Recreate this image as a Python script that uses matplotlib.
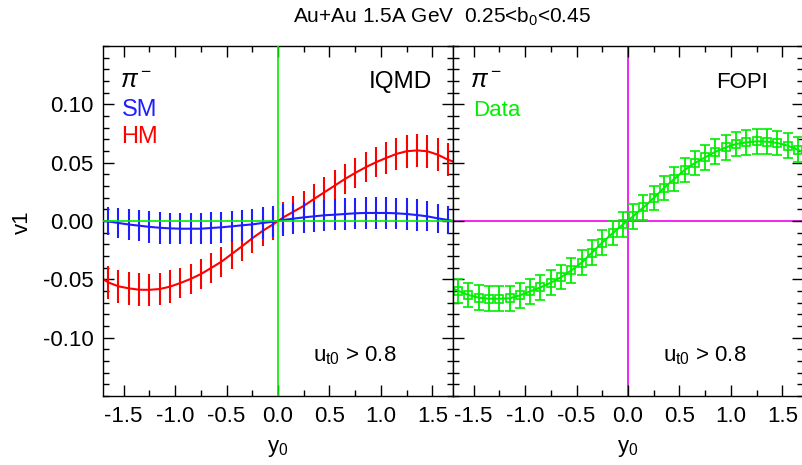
import matplotlib.pyplot as plt
from matplotlib.ticker import MultipleLocator, FixedLocator, FormatStrFormatter

plt.rcParams['font.family'] = ['Liberation Sans', 'DejaVu Sans']
plt.rcParams['axes.unicode_minus'] = False
plt.rcParams['mathtext.fontset'] = 'custom'
plt.rcParams['mathtext.rm'] = 'Liberation Sans'
plt.rcParams['mathtext.it'] = 'Liberation Sans:italic'

# rapidity bins
y0 = [-1.65, -1.55, -1.45, -1.35, -1.25, -1.15, -1.05, -0.95, -0.85, -0.75,
      -0.65, -0.55, -0.45, -0.35, -0.25, -0.15, -0.05, 0.05, 0.15, 0.25,
      0.35, 0.45, 0.55, 0.65, 0.75, 0.85, 0.95, 1.05, 1.15, 1.25,
      1.35, 1.45, 1.55, 1.65]

# IQMD hard EoS (HM)
hm_v1 = [-0.0526, -0.0560, -0.0577, -0.0589, -0.0590, -0.0583, -0.0563, -0.0532, -0.0497, -0.0455,
         -0.0403, -0.0349, -0.0283, -0.0217, -0.0148, -0.0085, -0.0030, 0.0030, 0.0080, 0.0130,
         0.0189, 0.0246, 0.0303, 0.0360, 0.0412, 0.0460, 0.0503, 0.0540, 0.0575, 0.0598,
         0.0605, 0.0598, 0.0569, 0.0526]
hm_err = [0.014, 0.014, 0.014, 0.014, 0.014, 0.014, 0.014, 0.013, 0.013, 0.013,
          0.013, 0.013, 0.013, 0.013, 0.013, 0.013, 0.013, 0.013, 0.013, 0.013,
          0.013, 0.013, 0.013, 0.013, 0.013, 0.013, 0.013, 0.014, 0.014, 0.014,
          0.014, 0.014, 0.014, 0.014]
hm_edges = [-0.0497, 0.0510]

# IQMD soft EoS (SM)
sm_v1 = [-0.0003, -0.0017, -0.0030, -0.0040, -0.0050, -0.0058, -0.0063, -0.0066, -0.0066, -0.0066,
         -0.0060, -0.0054, -0.0046, -0.0037, -0.0029, -0.0017, -0.0006, 0.0009, 0.0020, 0.0031,
         0.0040, 0.0049, 0.0054, 0.0060, 0.0066, 0.0069, 0.0069, 0.0069, 0.0066, 0.0060,
         0.0051, 0.0040, 0.0023, 0.0009]
sm_err = [0.012, 0.0125, 0.013, 0.0135, 0.0135, 0.0135, 0.0135, 0.0135, 0.0135, 0.0135,
          0.0135, 0.0135, 0.0135, 0.0135, 0.0135, 0.0135, 0.0135, 0.0135, 0.0135, 0.0135,
          0.0135, 0.0135, 0.0135, 0.0135, 0.0135, 0.0135, 0.0135, 0.0135, 0.0135, 0.0135,
          0.0135, 0.013, 0.0125, 0.012]
sm_edges = [0.0, 0.0]

# FOPI data
data_v1 = [-0.0598, -0.0634, -0.0657, -0.0666, -0.0666, -0.0663, -0.0637, -0.0603, -0.0569, -0.0529,
           -0.0481, -0.0423, -0.0357, -0.0271, -0.0185, -0.0105, -0.0030, 0.0040, 0.0117, 0.0197,
           0.0283, 0.0360, 0.0437, 0.0497, 0.0546, 0.0594, 0.0631, 0.0660, 0.0674, 0.0683,
           0.0680, 0.0669, 0.0646, 0.0611]
data_err = [0.0105] * len(data_v1)
data_edges = [-0.058, 0.059]

x_edges = [-1.7, 1.7]
v1_ticks = [-0.10, -0.05, 0.00, 0.05, 0.10]

RED = '#ff0000'
BLUE = '#1e1eff'
GREEN = '#00ee00'
MAGENTA = '#ee00ee'

fig = plt.figure(figsize=(8.03, 4.65), dpi=100)
W, H = 803.0, 465.0
ax1 = fig.add_axes([103 / W, 69 / H, 350 / W, 350 / H])
ax2 = fig.add_axes([453 / W, 69 / H, 350 / W, 350 / H])

for ax in (ax1, ax2):
    ax.set_xlim(-1.7, 1.7)
    ax.set_ylim(-0.15, 0.15)
    ax.xaxis.set_major_locator(MultipleLocator(0.5))
    ax.xaxis.set_minor_locator(MultipleLocator(0.25))
    ax.yaxis.set_major_locator(FixedLocator(v1_ticks))
    ax.yaxis.set_minor_locator(MultipleLocator(0.01))
    ax.xaxis.set_major_formatter(FormatStrFormatter('%.1f'))
    ax.yaxis.set_major_formatter(FormatStrFormatter('%.2f'))
    ax.tick_params(which='both', direction='in', top=True, right=True, width=1, labelsize=16)
    ax.tick_params(which='major', length=8, pad=7)
    ax.tick_params(which='minor', length=4)
    for s in ax.spines.values():
        s.set_linewidth(1)
    ax.text(0.5, -0.149, 'y$_0$', transform=ax.transAxes, ha='center', va='center', fontsize=16)
    ax.text(0.72, 0.098, 'u$_{\\rm t0}$ > 0.8', transform=ax.transAxes, ha='center',
            va='baseline', fontsize=16)
    ax.text(0.05, 0.88, r'$\pi^-$', transform=ax.transAxes, ha='left', va='baseline', fontsize=18)

ax2.tick_params(labelleft=False)

# left panel: IQMD
ax1.axvline(0, color=GREEN, lw=1.2, zorder=4)
ax1.axhline(0, color=GREEN, lw=1.2, zorder=4)
ax1.errorbar(y0, hm_v1, yerr=hm_err, fmt='none', ecolor=RED, elinewidth=1.5, capsize=0)
ax1.plot([x_edges[0]] + y0 + [x_edges[1]], [hm_edges[0]] + hm_v1 + [hm_edges[1]], color=RED, lw=1.5)
ax1.errorbar(y0, sm_v1, yerr=sm_err, fmt='none', ecolor=BLUE, elinewidth=1.5, capsize=0)
ax1.plot([x_edges[0]] + y0 + [x_edges[1]], [sm_edges[0]] + sm_v1 + [sm_edges[1]], color=BLUE, lw=1.5)

ax1.text(0.053, 0.80, 'SM', color=BLUE, transform=ax1.transAxes, ha='left', va='baseline', fontsize=17)
ax1.text(0.053, 0.722, 'HM', color=RED, transform=ax1.transAxes, ha='left', va='baseline', fontsize=17)
ax1.text(0.939, 0.879, 'IQMD', transform=ax1.transAxes, ha='right', va='baseline', fontsize=17.5)

# right panel: FOPI
ax2.axvline(0, color=MAGENTA, lw=1.2, zorder=1)
ax2.axhline(0, color=MAGENTA, lw=1.2, zorder=1)
ax2.plot([x_edges[0]] + y0 + [x_edges[1]], [data_edges[0]] + data_v1 + [data_edges[1]], color=GREEN, lw=1.5)
ax2.errorbar(y0, data_v1, yerr=data_err, fmt='s', mfc='none', mec=GREEN, ms=6, mew=1.2,
             ecolor=GREEN, elinewidth=1.3, capsize=3.5, capthick=1.3)
ax2.text(0.058, 0.80, 'Data', color=GREEN, transform=ax2.transAxes, ha='left', va='baseline', fontsize=16)
ax2.text(0.9, 0.879, 'FOPI', transform=ax2.transAxes, ha='right', va='baseline', fontsize=16)

fig.text(22 / W, 1 - 222 / H, 'v1', rotation=90, ha='center', va='center', fontsize=16)
fig.text(441.7 / W, 1 - 17 / H, 'Au+Au 1.5A GeV  0.25<b$_0$<0.45', ha='center', va='center', fontsize=15)

fig.savefig('out.png', dpi=100)
